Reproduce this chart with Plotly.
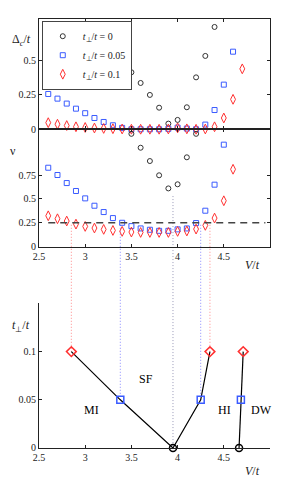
import plotly.graph_objects as go

# ---------------- data ----------------
# top panel: gap Delta_c/t
V_gap_t0 = [3.5, 3.6, 3.7, 3.8, 3.9, 4.0, 4.1, 4.2, 4.3, 4.4]
gap_t0 = [0.415, 0.337, 0.25, 0.157, 0.041, 0.068, 0.16, 0.378, 0.534, 0.745]
V_gap_t005 = [2.6, 2.7, 2.8, 2.9, 3.0, 3.1, 3.2, 3.3, 3.4, 3.5, 3.6, 3.7, 3.8, 3.9, 4.0, 4.1, 4.2, 4.3, 4.4, 4.5, 4.6]
gap_t005 = [0.257, 0.223, 0.187, 0.15, 0.117, 0.082, 0.053, 0.029, 0.01, 0.0, 0.0, 0.0, 0.0, 0.003, 0.012, 0.005, 0.0, 0.034, 0.14, 0.325, 0.565]
V_gap_t01 = [2.6, 2.7, 2.8, 2.9, 3.0, 3.1, 3.2, 3.3, 3.4, 3.5, 3.6, 3.7, 3.8, 3.9, 4.0, 4.1, 4.2, 4.3, 4.4, 4.5, 4.6, 4.7]
gap_t01 = [0.048, 0.037, 0.027, 0.018, 0.013, 0.009, 0.006, 0.004, 0.002, 0.0, 0.0, 0.0, 0.0, 0.002, 0.01, 0.003, 0.0, 0.002, 0.018, 0.082, 0.218, 0.44]

# middle panel: nu
V_nu_t0 = [3.5, 3.6, 3.7, 3.8, 3.9, 4.0, 4.1, 4.2]
nu_t0 = [1.18, 1.035, 0.896, 0.747, 0.61, 0.653, 0.935, 1.18]
V_nu_t005 = [2.6, 2.7, 2.8, 2.9, 3.0, 3.1, 3.2, 3.3, 3.4, 3.5, 3.6, 3.7, 3.8, 3.9, 4.0, 4.1, 4.2, 4.3, 4.4, 4.5]
nu_t005 = [0.826, 0.75, 0.666, 0.583, 0.506, 0.429, 0.363, 0.30, 0.251, 0.216, 0.192, 0.178, 0.167, 0.167, 0.182, 0.192, 0.248, 0.377, 0.649, 1.067]
V_nu_t01 = [2.6, 2.7, 2.8, 2.9, 3.0, 3.1, 3.2, 3.3, 3.4, 3.5, 3.6, 3.7, 3.8, 3.9, 4.0, 4.1, 4.2, 4.3, 4.4, 4.5, 4.6]
nu_t01 = [0.324, 0.293, 0.269, 0.237, 0.213, 0.196, 0.182, 0.171, 0.161, 0.154, 0.15, 0.15, 0.15, 0.15, 0.161, 0.165, 0.185, 0.224, 0.30, 0.481, 0.81]
nu_threshold = 0.25

# bottom panel: phase diagram
V_b1 = [2.85, 3.38, 3.95, 4.25, 4.35]
tp_b1 = [0.1, 0.05, 0.0, 0.05, 0.1]
V_b2 = [4.665, 4.685, 4.71]
tp_b2 = [0.0, 0.05, 0.1]
phase_names = ["SF", "MI", "HI", "DW"]
phase_V = [3.66, 3.07, 4.51, 4.91]
phase_tp = [0.072, 0.039, 0.039, 0.039]

x_ticks = [2.5, 3, 3.5, 4, 4.5]
x_ticklabels = ["2.5", "3", "3.5", "4", "4.5"]
legend_names = ["<i>t</i><sub>⊥</sub>/<i>t</i> = 0", "<i>t</i><sub>⊥</sub>/<i>t</i> = 0.05", "<i>t</i><sub>⊥</sub>/<i>t</i> = 0.1"]

# ---------------- styles ----------------
C_BLK = "#333333"
C_BLU = "#3a5bff"
C_RED = "#ff3030"
FONT = "Liberation Serif"
XR = [2.5, 5.0]
Y1R = [0, 0.803]
Y2R = [0, 1.228]
Y3R = [0, 0.15]
D1 = [0.743, 1.0]
D2 = [0.469, 0.743]
D3 = [0.0, 0.337]
BODY = 8  # default page margin of the html body

fig = go.Figure()

def mk(sym, color, size, width=1):
    return dict(symbol=sym, size=size, color=color, line=dict(color=color, width=width))

series_top = [(V_gap_t0, gap_t0, "circle-open", C_BLK, 5),
              (V_gap_t005, gap_t005, "square-open", C_BLU, 5),
              (V_gap_t01, gap_t01, "diamond-tall-open", C_RED, 7)]
for i, (xv, yv, s, c, sz) in enumerate(series_top):
    fig.add_trace(go.Scatter(x=xv, y=yv, mode="markers", marker=mk(s, c, sz),
                             name=legend_names[i],
                             xaxis="x", yaxis="y", cliponaxis=False))

series_mid = [(V_nu_t0, nu_t0, "circle-open", C_BLK, 5),
              (V_nu_t005, nu_t005, "square-open", C_BLU, 5),
              (V_nu_t01, nu_t01, "diamond-tall-open", C_RED, 7)]
for xv, yv, s, c, sz in series_mid:
    fig.add_trace(go.Scatter(x=xv, y=yv, mode="markers", marker=mk(s, c, sz),
                             showlegend=False, xaxis="x2", yaxis="y2", cliponaxis=False))

# bottom: lines
fig.add_trace(go.Scatter(x=V_b1, y=tp_b1, mode="lines", line=dict(color="black", width=1.2),
                         showlegend=False, xaxis="x3", yaxis="y3", cliponaxis=False))
fig.add_trace(go.Scatter(x=V_b2, y=tp_b2, mode="lines", line=dict(color="black", width=1.2),
                         showlegend=False, xaxis="x3", yaxis="y3", cliponaxis=False))
allV = V_b1 + V_b2
allT = tp_b1 + tp_b2
for tval, s, c, sz in [(0.0, "circle-open", "black", 7), (0.05, "square-open", C_BLU, 7), (0.1, "diamond-open", C_RED, 7.5)]:
    xs = [v for v, t in zip(allV, allT) if t == tval]
    ys = [t for t in allT if t == tval]
    fig.add_trace(go.Scatter(x=xs, y=ys, mode="markers", marker=mk(s, c, sz, 1.5),
                             showlegend=False, xaxis="x3", yaxis="y3", cliponaxis=False))

# phase labels
for n, xv, yv in zip(phase_names, phase_V, phase_tp):
    fig.add_annotation(x=xv, y=yv, xref="x3", yref="y3", text=n, showarrow=False,
                       xanchor="center", yanchor="middle",
                       font=dict(family=FONT, size=12, color="black"))

# dashed threshold line
fig.add_shape(type="line", xref="x2", yref="y2", x0=2.6, x1=4.95, y0=nu_threshold, y1=nu_threshold,
              line=dict(color="#444444", width=1.5, dash="7px,5px"))

# dotted connectors
def py_mid(v):
    return D2[0] + (v - Y2R[0]) / (Y2R[1] - Y2R[0]) * (D2[1] - D2[0])
def py_bot(v):
    return D3[0] + (v - Y3R[0]) / (Y3R[1] - Y3R[0]) * (D3[1] - D3[0])
dot_col = {0.0: "#9a9ab8", 0.05: "#8a8aff", 0.1: "#ff8a8a"}
for v, t in zip(V_b1, tp_b1):
    start = 0.53 if t == 0.0 else 0.23
    fig.add_shape(type="line", xref="x3", yref="paper", x0=v, x1=v, y0=py_mid(start), y1=py_bot(t),
                  line=dict(color=dot_col[t], width=1, dash="1px,2px"), layer="below")

axis_common = dict(range=XR, showgrid=False, zeroline=False, showline=True, linecolor="#222",
                   linewidth=1, ticks="inside", ticklen=3, tickcolor="#222", tickvals=x_ticks,
                   ticktext=x_ticklabels, tickfont=dict(family=FONT, size=10, color="#222"))
yax_common = dict(showgrid=False, zeroline=False, showline=True, linecolor="#222", linewidth=1,
                  ticks="inside", ticklen=3, tickcolor="#222",
                  tickfont=dict(family=FONT, size=10, color="#222"))

fig.update_layout(
    width=299 - BODY, height=488 - BODY, margin=dict(l=39 - BODY, r=29, t=19 - BODY, b=40),
    paper_bgcolor="white", plot_bgcolor="white",
    font=dict(family=FONT, size=10, color="#222"),
    xaxis=dict(axis_common, anchor="y", mirror="ticks", showticklabels=False),
    yaxis=dict(yax_common, domain=D1, range=Y1R, anchor="x", mirror="ticks",
               tickvals=[0, 0.25, 0.5], ticktext=["0", "0.25", "0.5"]),
    xaxis2=dict(axis_common, anchor="y2", mirror="ticks", matches="x"),
    yaxis2=dict(yax_common, domain=D2, range=Y2R, anchor="x2", mirror="ticks",
                tickvals=[0, 0.25, 0.5, 0.75], ticktext=["0", "0.25", "0.5", "0.75"]),
    xaxis3=dict(axis_common, anchor="y3", matches="x"),
    yaxis3=dict(yax_common, domain=D3, range=Y3R, anchor="x3",
                tickvals=[0, 0.05, 0.1], ticktext=["0", "0.05", "0.1"]),
    showlegend=True,
    legend=dict(x=0.012, y=0.996, xanchor="left", yanchor="top", bgcolor="white",
                bordercolor="#444", borderwidth=1, font=dict(family=FONT, size=10, color="#222"),
                itemwidth=30),
)

def px_x(p):
    return (p - 39) / 231
def px_y(p):
    return (448 - p) / 429
titles = [("Δ<sub><i>c</i></sub>/<i>t</i>", 21, 40), ("ν", 13, 151), ("<i>V</i>/<i>t</i>", 252, 265),
          ("<i>t</i><sub>⊥</sub>/<i>t</i>", 21, 326), ("<i>V</i>/<i>t</i>", 252, 471)]
for txt, x, y in titles:
    fig.add_annotation(x=px_x(x), y=px_y(y), xref="paper", yref="paper", text=txt, showarrow=False,
                       xanchor="center", yanchor="middle",
                       font=dict(family=FONT, size=12, color="#222"))

fig.write_html("out.html")
